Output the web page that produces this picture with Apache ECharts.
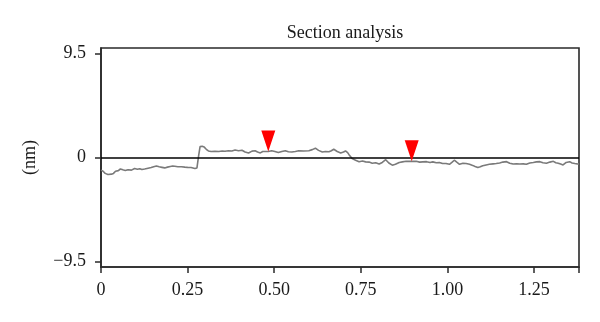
<!DOCTYPE html>
<html>
<head>
<meta charset="utf-8">
<title>Section analysis</title>
<script src="https://cdn.jsdelivr.net/npm/echarts@6/dist/echarts.min.js"></script>
<style>
  html, body { margin: 0; padding: 0; background: #fff; }
  #chart { width: 600px; height: 322px; }
</style>
</head>
<body>
<div id="chart"></div>
<script>
// Surface profile along the scan line (position in µm, height in nm)
const positions = [
  0.000, 0.006, 0.012, 0.020, 0.030, 0.036, 0.042, 0.050, 0.056, 0.063,
  0.070, 0.078, 0.088, 0.097, 0.105, 0.112, 0.118, 0.126, 0.136, 0.145,
  0.152, 0.160, 0.168, 0.176, 0.184, 0.192, 0.200, 0.207, 0.213, 0.222,
  0.232, 0.242, 0.250, 0.260, 0.271, 0.277, 0.282, 0.286, 0.292, 0.298,
  0.304, 0.310, 0.318, 0.329, 0.340, 0.350, 0.358, 0.368, 0.378, 0.387,
  0.397, 0.407, 0.416, 0.426, 0.436, 0.445, 0.452, 0.460, 0.467, 0.474,
  0.483, 0.493, 0.502, 0.512, 0.522, 0.532, 0.541, 0.551, 0.561, 0.571,
  0.585, 0.600, 0.610, 0.619, 0.628, 0.639, 0.648, 0.658, 0.665, 0.672,
  0.682, 0.692, 0.700, 0.706, 0.712, 0.716, 0.725, 0.735, 0.745, 0.755,
  0.764, 0.774, 0.783, 0.793, 0.803, 0.812, 0.822, 0.831, 0.841, 0.850,
  0.861, 0.870, 0.881, 0.897, 0.910, 0.920, 0.929, 0.940, 0.950, 0.958,
  0.968, 0.977, 0.986, 0.996, 1.006, 1.013, 1.020, 1.028, 1.035, 1.045,
  1.054, 1.064, 1.073, 1.080, 1.088, 1.095, 1.102, 1.112, 1.121, 1.132,
  1.141, 1.151, 1.160, 1.171, 1.180, 1.190, 1.200, 1.209, 1.219, 1.228,
  1.238, 1.248, 1.257, 1.267, 1.276, 1.286, 1.296, 1.306, 1.313, 1.320,
  1.327, 1.334, 1.343, 1.353, 1.360, 1.368, 1.375, 1.380
];
const heights = [
  -1.15, -1.25, -1.45, -1.55, -1.52, -1.45, -1.25, -1.20, -1.05, -1.12,
  -1.18, -1.12, -1.15, -1.00, -1.08, -1.02, -1.10, -1.05, -0.98, -0.92,
  -0.85, -0.78, -0.85, -0.90, -0.95, -0.88, -0.82, -0.78, -0.80, -0.84,
  -0.85, -0.88, -0.90, -0.92, -1.00, -0.95, 0.20, 1.00, 1.02, 0.95,
  0.75, 0.60, 0.55, 0.57, 0.55, 0.60, 0.57, 0.62, 0.60, 0.68,
  0.62, 0.66, 0.50, 0.41, 0.58, 0.62, 0.50, 0.42, 0.55, 0.55,
  0.55, 0.62, 0.55, 0.45, 0.55, 0.62, 0.52, 0.50, 0.55, 0.62,
  0.60, 0.62, 0.72, 0.85, 0.65, 0.50, 0.55, 0.52, 0.62, 0.75,
  0.55, 0.42, 0.50, 0.60, 0.45, 0.26, -0.10, -0.25, -0.38, -0.32,
  -0.40, -0.42, -0.52, -0.48, -0.60, -0.45, -0.20, -0.50, -0.70, -0.62,
  -0.45, -0.40, -0.35, -0.35, -0.35, -0.42, -0.40, -0.38, -0.45, -0.40,
  -0.48, -0.45, -0.55, -0.55, -0.62, -0.45, -0.25, -0.45, -0.62, -0.52,
  -0.55, -0.62, -0.72, -0.82, -0.92, -0.85, -0.75, -0.68, -0.62, -0.58,
  -0.55, -0.50, -0.42, -0.38, -0.52, -0.60, -0.58, -0.60, -0.58, -0.62,
  -0.50, -0.45, -0.40, -0.38, -0.48, -0.52, -0.42, -0.35, -0.48, -0.52,
  -0.60, -0.68, -0.45, -0.38, -0.50, -0.55, -0.58, -0.60
];

// Cursor markers placed on the profile
const markerPositions = [0.483, 0.897];
const markerHeights = [0.55, -0.35];

// Axis ticks and their labels
const xTicks = [0, 0.25, 0.5, 0.75, 1.0, 1.25];
const xTickLabels = ['0', '0.25', '0.50', '0.75', '1.00', '1.25'];
const yTicks = [-9.5, 0, 9.5];
const yTickLabels = ['\u22129.5', '0', '9.5'];

const profile = positions.map((x, i) => [x, heights[i]]);
const markers = markerPositions.map((x, i) => [x, markerHeights[i]]);

const serif = '"Liberation Serif", "DejaVu Serif", serif';
const ink = '#1a1a1a';
const frame = '#2a2a2a';

const chart = echarts.init(document.getElementById('chart'), null, { renderer: 'canvas' });
chart.setOption({
  animation: false,
  backgroundColor: '#ffffff',
  title: {
    text: 'Section analysis',
    left: 340,
    top: 19,
    textAlign: 'center',
    textStyle: { fontFamily: serif, fontSize: 18, fontWeight: 'normal', color: ink }
  },
  grid: {
    left: 101, right: 21, top: 48, bottom: 55,
    show: true, borderColor: frame, borderWidth: 1.6, backgroundColor: 'transparent'
  },
  xAxis: {
    type: 'value',
    min: 0, max: 1.38,
    interval: 0.25,
    axisLine: { show: true, onZero: false, lineStyle: { color: frame, width: 1.6 } },
    axisTick: { show: true, length: 6, lineStyle: { color: frame, width: 1.5 } },
    axisLabel: {
      customValues: xTicks,
      margin: 14,
      fontFamily: serif, fontSize: 18, color: ink,
      formatter: v => xTickLabels[xTicks.findIndex(t => Math.abs(t - v) < 1e-6)]
    },
    splitLine: { show: false }
  },
  yAxis: {
    type: 'value',
    min: -10, max: 10,
    name: '(nm)',
    nameLocation: 'middle',
    nameGap: 62,
    nameRotate: 90,
    nameTextStyle: { fontFamily: serif, fontSize: 18, color: ink },
    axisLine: { show: true, onZero: false, lineStyle: { color: frame, width: 1.6 } },
    axisTick: { show: true, length: 6, lineStyle: { color: frame, width: 1.5 }, customValues: yTicks },
    axisLabel: {
      customValues: yTicks,
      margin: 15,
      fontFamily: serif, fontSize: 18, color: ink,
      formatter: v => yTickLabels[yTicks.findIndex(t => Math.abs(t - v) < 1e-6)]
    },
    splitLine: { show: false }
  },
  series: [
    {
      type: 'line',
      data: profile,
      symbol: 'none',
      lineStyle: { color: '#7a7a7a', width: 1.6 },
      markLine: {
        silent: true,
        symbol: 'none',
        label: { show: false },
        lineStyle: { color: '#000', width: 1.6, type: 'solid' },
        data: [{ yAxis: 0 }]
      },
      z: 3
    },
    {
      type: 'scatter',
      data: markers,
      symbol: 'path://M0,0L14,0L7,21Z',
      symbolSize: [14, 21],
      symbolOffset: [0, '-50%'],
      itemStyle: { color: '#ff0000', opacity: 1 },
      z: 5
    }
  ]
});
</script>
</body>
</html>
